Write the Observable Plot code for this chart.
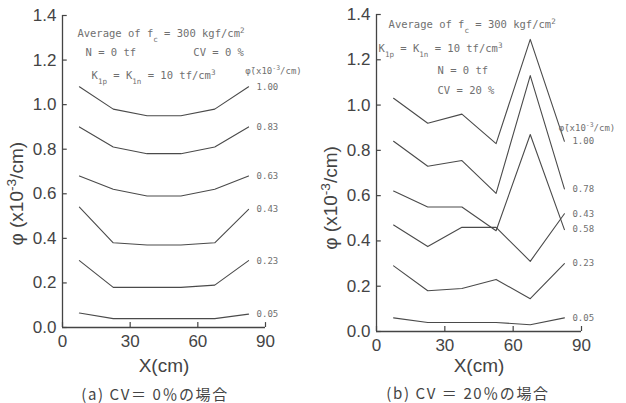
<!DOCTYPE html>
<html><head><meta charset="utf-8">
<script src="https://cdn.jsdelivr.net/npm/d3@7"></script>
<script src="https://cdn.jsdelivr.net/npm/@observablehq/plot@0.6"></script>
<style>
body{margin:0;background:#fff;}
#wrap{display:flex;width:626px;height:403px;overflow:hidden;}
#wrap svg{overflow:visible;}
</style></head><body><div id="wrap"></div>
<script>
// ---- data ----
const xPositions = [7.5, 22.5, 37.5, 52.5, 67.5, 82.5];
const xTicks = [0, 30, 60, 90];
const yTicks = [0, 0.2, 0.4, 0.6, 0.8, 1.0, 1.2, 1.4];

// (a) CV = 0%
const leftNames = ["1.00", "0.83", "0.63", "0.43", "0.23", "0.05"];
const left100 = [1.08, 0.98, 0.95, 0.95, 0.98, 1.08];
const left083 = [0.90, 0.81, 0.78, 0.78, 0.81, 0.90];
const left063 = [0.68, 0.62, 0.59, 0.59, 0.62, 0.68];
const left043 = [0.54, 0.38, 0.37, 0.37, 0.38, 0.53];
const left023 = [0.30, 0.18, 0.18, 0.18, 0.19, 0.30];
const left005 = [0.065, 0.04, 0.04, 0.04, 0.04, 0.06];

// (b) CV = 20%
const rightNames = ["1.00", "0.78", "0.58", "0.43", "0.23", "0.05"];
const right100 = [1.03, 0.92, 0.96, 0.83, 1.29, 0.84];
const right078 = [0.84, 0.73, 0.755, 0.61, 1.13, 0.63];
const right058 = [0.62, 0.55, 0.55, 0.445, 0.87, 0.45];
const right043 = [0.47, 0.375, 0.46, 0.46, 0.31, 0.52];
const right023 = [0.29, 0.18, 0.19, 0.23, 0.145, 0.30];
const right005 = [0.06, 0.04, 0.04, 0.04, 0.03, 0.06];

const leftSeries = [left100, left083, left063, left043, left023, left005];
const rightSeries = [right100, right078, right058, right043, right023, right005];

const yLabel = "φ (x10^{-3}/cm)";
const xLabel = "X(cm)";
const headerLabel = "φ̄(x10^{-3}/cm)";

// ---- helpers ----
function rows(names, series) {
  const out = [];
  series.forEach((vals, i) => vals.forEach((v, j) => out.push({series: names[i], x: xPositions[j], y: v})));
  return out;
}
function ends(names, series) {
  return series.map((vals, i) => ({label: names[i], x: xPositions[xPositions.length - 1], y: vals[vals.length - 1]}));
}
function richify(svg) {
  svg.querySelectorAll("text").forEach(t => {
    const s = t.textContent;
    if (s.includes("場合")) t.style.letterSpacing = "1.6px";
    if (!/[_^]\{/.test(s)) return;
    while (t.firstChild) t.removeChild(t.firstChild);
    const re = /([_^])\{([^}]*)\}/g; let last = 0, m;
    while ((m = re.exec(s))) {
      if (m.index > last) t.appendChild(document.createTextNode(s.slice(last, m.index)));
      const ts = document.createElementNS("http://www.w3.org/2000/svg", "tspan");
      ts.setAttribute("baseline-shift", m[1] === "_" ? "sub" : "super");
      ts.setAttribute("font-size", "72%");
      ts.textContent = m[2];
      t.appendChild(ts);
      last = re.lastIndex;
    }
    if (last < s.length) t.appendChild(document.createTextNode(s.slice(last)));
  });
}

const MONO = "DejaVu Sans Mono, Liberation Mono, monospace";
const SANS = "Liberation Sans, Arial, sans-serif";
const CJK = "Noto Sans CJK JP, sans-serif";
const INK = "#444";
const NOTE = "#707070";

function panel(cfg) {
  const {names, series, mL, mR, mT, mB, notes, header, caption, capDx, xlDy, capDy, ylab} = cfg;
  const plot = Plot.plot({
    width: 313, height: 403,
    marginLeft: mL, marginRight: mR, marginTop: mT, marginBottom: mB,
    x: {domain: [0, 90]},
    y: {domain: [0, 1.4]},
    style: {fontFamily: SANS, fontSize: "17px", color: INK, background: "#fff"},
    marks: [
      Plot.ruleX([0], {stroke: INK, strokeWidth: 1.3}),
      Plot.ruleY([0], {stroke: INK, strokeWidth: 1.3}),
      Plot.ruleY(yTicks, {y: d => d, x1: 0, x2: 2.1, stroke: INK, strokeWidth: 1.2}),
      Plot.ruleX(xTicks, {x: d => d, y1: 0, y2: 0.022, stroke: INK, strokeWidth: 1.2}),
      Plot.axisY(yTicks, {tickSize: 0, tickPadding: 6, tickFormat: d3.format(".1f"), label: null, fill: INK, fontSize: 17}),
      Plot.axisX(xTicks, {tickSize: 0, tickPadding: 7, tickFormat: d3.format("d"), label: null, fill: INK, fontSize: 17}),
      Plot.line(rows(names, series), {x: "x", y: "y", z: "series", stroke: "#4a4a4a", strokeWidth: 1.1}),
      Plot.text(ends(names, series), {x: "x", y: "y", text: "label", dx: 8, textAnchor: "start", fontFamily: MONO, fontSize: 9, fill: NOTE}),
      Plot.text([headerLabel], {x: header[0], y: header[1], textAnchor: "start", fontFamily: MONO, fontSize: 9, fill: NOTE}),
      ...notes.map(n => Plot.text([n[0]], {x: n[1], y: n[2], textAnchor: "start", fontFamily: MONO, fontSize: 10.5, fill: NOTE})),
      Plot.text([yLabel], {x: ylab[0], y: ylab[1], rotate: -90, textAnchor: "middle", lineAnchor: "middle", fontFamily: SANS, fontSize: 19, fill: INK}),
      Plot.text([xLabel], {frameAnchor: "bottom", lineAnchor: "middle", dy: xlDy, fontFamily: SANS, fontSize: 19, fill: INK}),
      Plot.text([caption], {frameAnchor: "bottom", lineAnchor: "middle", dx: capDx, dy: capDy, fontFamily: CJK, fontSize: 15, fill: INK})
    ]
  });
  richify(plot);
  return plot;
}

const wrap = document.getElementById("wrap");
wrap.appendChild(panel({
  names: leftNames, series: leftSeries,
  mL: 62, mR: 48, mT: 15, mB: 76,
  notes: [
    ["Average of f_{c} = 300 kgf/cm^{2}", 6.6, 1.32],
    ["N = 0 tf", 10.2, 1.234],
    ["CV = 0 %", 58, 1.234],
    ["K_{1p} = K_{1n} = 10 tf/cm^{3}", 12.9, 1.13]
  ],
  header: [81, 1.15],
  ylab: [-20, 0.60],
  caption: "(a) CV＝ 0％の場合", capDx: -9, xlDy: 38, capDy: 68
}));
wrap.appendChild(panel({
  names: rightNames, series: rightSeries,
  mL: 63, mR: 45, mT: 14, mB: 72,
  notes: [
    ["Average of f_{c} = 300 kgf/cm^{2}", 5.3, 1.355],
    ["K_{1p} = K_{1n} = 10 tf/cm^{3}", 0.9, 1.25],
    ["N = 0 tf", 26.8, 1.15],
    ["CV = 20 %", 26.8, 1.064]
  ],
  header: [80, 0.9],
  ylab: [-20, 0.59],
  caption: "(b) CV ＝ 20％の場合", capDx: -11, xlDy: 34, capDy: 63
}));
</script>
</body></html>
